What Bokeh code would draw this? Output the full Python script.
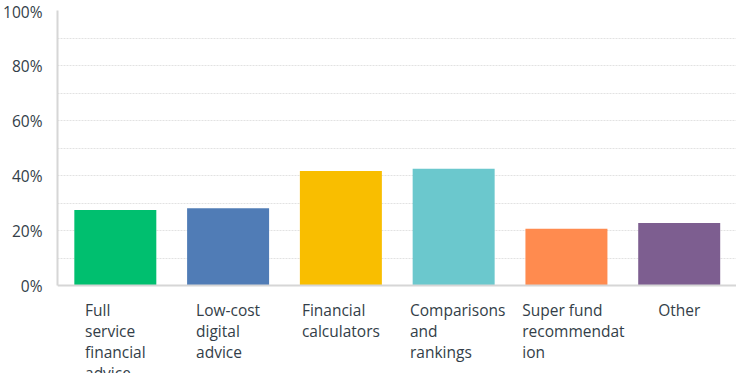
from bokeh.plotting import figure
from bokeh.models import Range1d, FixedTicker, PrintfTickFormatter, Span
from bokeh.core.properties import value
from bokeh.embed import file_html
from bokeh.resources import INLINE

categories = ["Full\nservice\nfinancial\nadvice", "Low-cost\ndigital\nadvice",
              "Financial\ncalculators", "Comparisons\nand\nrankings",
              "Super fund\nrecommendat\nion", "Other"]
values = [27.5, 28.1, 41.6, 42.5, 20.6, 22.7]
colors = ["#00BF6F", "#507CB6", "#F9BE00", "#6BC8CD", "#FF8B4F", "#7D5E90"]
y_ticks = [0, 20, 40, 60, 80, 100]
y_minor = [10, 30, 50, 70, 90]
# long labels overflow their (max-width) label box to the right
label_shift = [0, 0, 0, 4, 7, 0]

idx = list(range(len(categories)))
TEXT = "#333e48"

p = figure(width=736, height=373, output_backend="svg", toolbar_location=None,
           x_range=Range1d(-0.5127, 5.508), y_range=Range1d(-32, 100),
           min_border_left=49, min_border_right=0, min_border_top=10, min_border_bottom=0)
p.outline_line_color = None
p.xaxis.visible = False

p.vbar(x=idx, top=values, width=0.727, color=colors, line_color=None)

# baseline (x axis line)
p.add_layout(Span(location=0, dimension="width", line_color="#d6d6d6", line_width=2))

# y axis
p.yaxis.ticker = FixedTicker(ticks=y_ticks, minor_ticks=y_minor)
p.yaxis.bounds = (0, 100)
p.yaxis.formatter = PrintfTickFormatter(format="%d%%")
p.yaxis.axis_line_color = "#d6d6d6"
p.yaxis.axis_line_width = 2
p.yaxis.major_tick_line_color = None
p.yaxis.minor_tick_line_color = None
p.yaxis.major_label_standoff = 9
p.yaxis.major_label_text_font = "Open Sans"
p.yaxis.major_label_text_font_size = "15.5px"
p.yaxis.major_label_text_color = TEXT

p.xgrid.grid_line_color = None
p.ygrid.grid_line_color = "#e2e2e2"
p.ygrid.grid_line_dash = "2 1"
p.ygrid.minor_grid_line_color = "#e2e2e2"
p.ygrid.minor_grid_line_dash = "2 1"

# category labels (block centred under bar, lines left-aligned)
p.text(x=idx, y=[-5] * len(idx), text=categories, x_offset=label_shift,
       anchor="top_center", text_align="left", text_baseline="top",
       text_font=value("Open Sans"), text_font_size="15.5px", text_color=TEXT,
       text_line_height=0.95)

open("out.html", "w").write(file_html(p, INLINE))
